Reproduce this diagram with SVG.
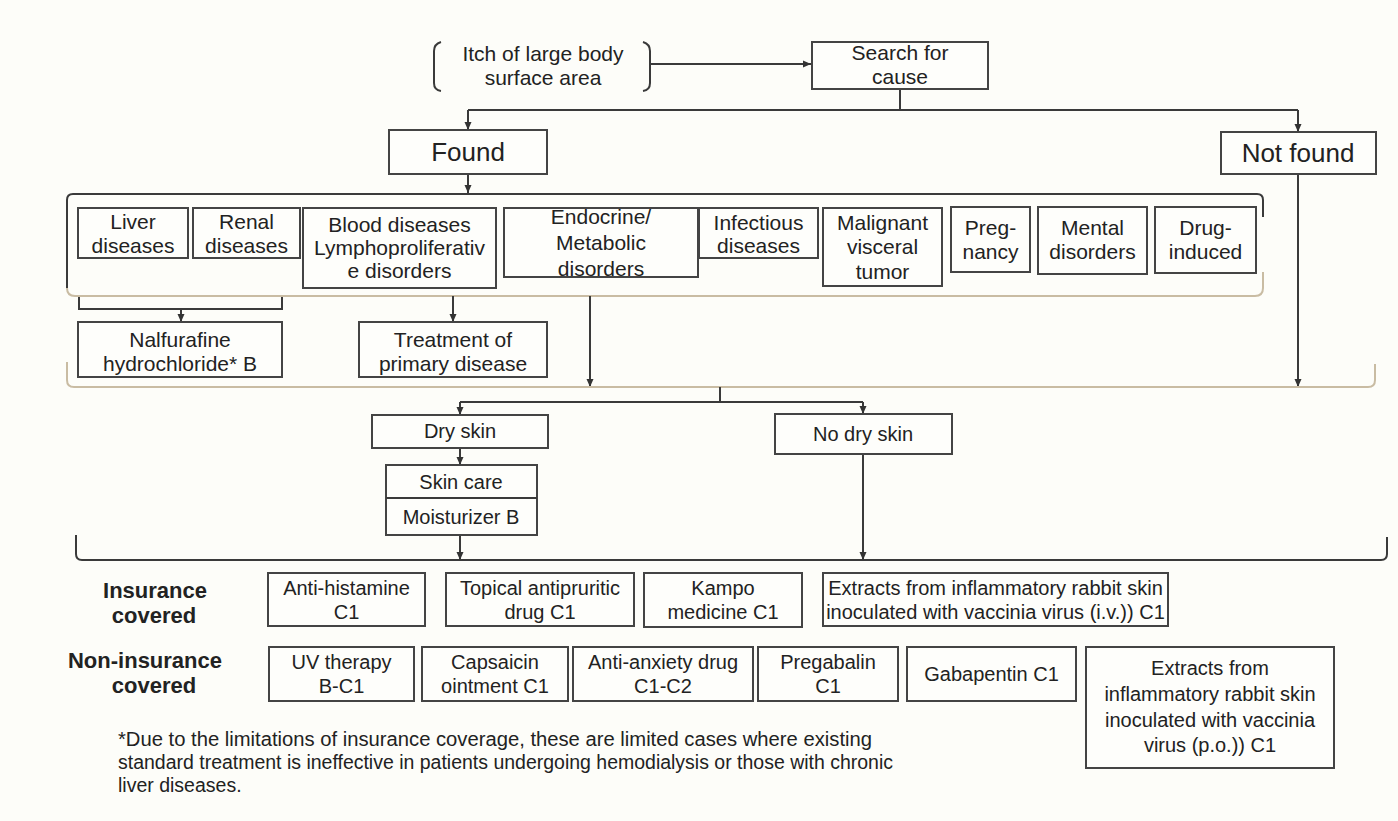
<svg xmlns="http://www.w3.org/2000/svg" width="1398" height="821" viewBox="0 0 1398 821">
<defs>
<marker id="ah" viewBox="0 0 8 8" refX="8" refY="4" markerWidth="8" markerHeight="8" markerUnits="userSpaceOnUse" orient="auto">
<path d="M0,0.5 L8,4 L0,7.5 z" fill="#333"/>
</marker>
<style>
.bx{fill:#fefefb;stroke:#444;stroke-width:2}
.t{font-family:"Liberation Sans",Arial,sans-serif;font-size:21px;fill:#222;text-anchor:middle}
.s{font-size:20px}
.big{font-size:26px}
.lb{font-family:"Liberation Sans",Arial,sans-serif;font-size:22px;font-weight:bold;fill:#222;text-anchor:middle}
.fn{font-family:"Liberation Sans",Arial,sans-serif;font-size:19.5px;fill:#222}
.ln{fill:none;stroke:#3a3a3a;stroke-width:2}
.la{fill:none;stroke:#3a3a3a;stroke-width:2;marker-end:url(#ah)}
.bg{fill:none;stroke:#c9bca3;stroke-width:2}
</style>
</defs>
<rect x="0" y="0" width="1398" height="821" fill="#fdfdf9"/>

<g id="connectors">
<path class="ln" d="M441 42 Q434 44 434 51 L434 83 Q434 90 441 91"/>
<path class="ln" d="M643 42 Q650 44 650 51 L650 83 Q650 90 643 91"/>
<line class="la" x1="651" y1="64" x2="811" y2="64"/>
<line class="ln" x1="900" y1="89" x2="900" y2="110"/>
<line class="ln" x1="468" y1="110" x2="1298" y2="110"/>
<line class="la" x1="468" y1="110" x2="468" y2="130"/>
<line class="la" x1="1298" y1="110" x2="1298" y2="132"/>
<line class="la" x1="468" y1="174" x2="468" y2="193"/>
<path class="ln" d="M67 288 L67 200 Q67 194 73 194 L1257 194 Q1263 194 1263 200 L1263 217"/>
<path class="bg" d="M67 288 Q67 296 75 296 L1255 296 Q1263 296 1263 288 L1263 272"/>
<path class="ln" d="M79 297 L79 309 L282 309 L282 297"/>
<line class="la" x1="181" y1="309" x2="181" y2="322"/>
<line class="la" x1="453" y1="296" x2="453" y2="322"/>
<line class="la" x1="590" y1="296" x2="590" y2="387"/>
<line class="la" x1="1298" y1="174" x2="1298" y2="387"/>
<path class="bg" d="M67 362 L67 380 Q67 387 74 387 L1368 387 Q1375 387 1375 380 L1375 364"/>
<line class="ln" x1="720" y1="387" x2="720" y2="402"/>
<line class="ln" x1="460" y1="402" x2="863" y2="402"/>
<line class="la" x1="460" y1="402" x2="460" y2="415"/>
<line class="la" x1="863" y1="402" x2="863" y2="414"/>
<line class="la" x1="460" y1="448" x2="460" y2="465"/>
<line class="la" x1="460" y1="535" x2="460" y2="560"/>
<line class="la" x1="863" y1="454" x2="863" y2="560"/>
<path class="ln" d="M76 535 L76 554 Q76 560 82 560 L1381 560 Q1387 560 1387 554 L1387 537"/>
</g>

<g id="itch"><text class="t" x="543" y="61">Itch of large body</text><text class="t" x="543" y="85">surface area</text></g>
<g id="search"><rect class="bx" x="812" y="42" width="176" height="47"/><text class="t" x="900" y="60">Search for</text><text class="t" x="900" y="84">cause</text></g>
<g id="found"><rect class="bx" x="389" y="130" width="158" height="44"/><text class="t big" x="468" y="161">Found</text></g>
<g id="notfound"><rect class="bx" x="1221" y="132" width="155" height="42"/><text class="t big" x="1298" y="162">Not found</text></g>

<g id="liver"><rect class="bx" x="78" y="208" width="110" height="50"/><text class="t" x="133" y="229">Liver</text><text class="t" x="133" y="253">diseases</text></g>
<g id="renal"><rect class="bx" x="193" y="208" width="107" height="50"/><text class="t" x="246.5" y="229">Renal</text><text class="t" x="246.5" y="253">diseases</text></g>
<g id="blood"><rect class="bx" x="303" y="208" width="193" height="80"/><text class="t" x="399.5" y="232">Blood diseases</text><text class="t" x="399.5" y="255">Lymphoproliferativ</text><text class="t" x="399.5" y="278">e disorders</text></g>
<g id="endocrine"><rect class="bx" x="504" y="208" width="194" height="69"/><text class="t" x="601" y="224">Endocrine/</text><text class="t" x="601" y="250">Metabolic</text><text class="t" x="601" y="276">disorders</text></g>
<g id="infectious"><rect class="bx" x="699" y="208" width="119" height="50"/><text class="t" x="758.5" y="230">Infectious</text><text class="t" x="758.5" y="253">diseases</text></g>
<g id="malignant"><rect class="bx" x="823" y="208" width="119" height="78"/><text class="t" x="882.5" y="230">Malignant</text><text class="t" x="882.5" y="254">visceral</text><text class="t" x="882.5" y="279">tumor</text></g>
<g id="pregnancy"><rect class="bx" x="951" y="207" width="79" height="65"/><text class="t" x="990.5" y="235">Preg-</text><text class="t" x="990.5" y="259">nancy</text></g>
<g id="mental"><rect class="bx" x="1038" y="207" width="109" height="67"/><text class="t" x="1092.5" y="235">Mental</text><text class="t" x="1092.5" y="259">disorders</text></g>
<g id="drug"><rect class="bx" x="1155" y="207" width="101" height="66"/><text class="t" x="1205.5" y="235">Drug-</text><text class="t" x="1205.5" y="259">induced</text></g>

<g id="nalfurafine"><rect class="bx" x="78" y="322" width="204" height="55"/><text class="t" x="180" y="347">Nalfurafine</text><text class="t" x="180" y="371">hydrochloride* B</text></g>
<g id="treatment"><rect class="bx" x="359" y="322" width="188" height="55"/><text class="t" x="453" y="347">Treatment of</text><text class="t" x="453" y="371">primary disease</text></g>

<g id="dryskin"><rect class="bx" x="372" y="415" width="176" height="33"/><text class="t s" x="460" y="438">Dry skin</text></g>
<g id="skincare"><rect class="bx" x="386" y="465" width="151" height="70"/><line class="ln" x1="386" y1="498" x2="537" y2="498"/><text class="t s" x="461" y="489">Skin care</text><text class="t s" x="461" y="524">Moisturizer B</text></g>
<g id="nodryskin"><rect class="bx" x="775" y="414" width="177" height="40"/><text class="t s" x="863" y="441">No dry skin</text></g>

<g id="lab-ins"><text class="lb" x="155" y="598">Insurance</text><text class="lb" x="154" y="623">covered</text></g>
<g id="lab-non"><text class="lb" x="145" y="668">Non-insurance</text><text class="lb" x="154" y="693">covered</text></g>

<g id="antihist"><rect class="bx" x="268" y="573" width="157" height="53"/><text class="t s" x="346.5" y="595">Anti-histamine</text><text class="t s" x="346.5" y="619">C1</text></g>
<g id="topical"><rect class="bx" x="446" y="573" width="188" height="53"/><text class="t s" x="540" y="595">Topical antipruritic</text><text class="t s" x="540" y="619">drug C1</text></g>
<g id="kampo"><rect class="bx" x="644" y="573" width="158" height="54"/><text class="t s" x="723" y="595">Kampo</text><text class="t s" x="723" y="619">medicine C1</text></g>
<g id="extracts-iv"><rect class="bx" x="823" y="573" width="345" height="53"/><text class="t s" x="995.5" y="595">Extracts from inflammatory rabbit skin</text><text class="t s" x="995.5" y="619">inoculated with vaccinia virus (i.v.)) C1</text></g>

<g id="uv"><rect class="bx" x="269" y="647" width="145" height="54"/><text class="t s" x="341.5" y="669">UV therapy</text><text class="t s" x="341.5" y="693">B-C1</text></g>
<g id="capsaicin"><rect class="bx" x="422" y="647" width="146" height="54"/><text class="t s" x="495" y="669">Capsaicin</text><text class="t s" x="495" y="693">ointment C1</text></g>
<g id="antianxiety"><rect class="bx" x="573" y="647" width="180" height="54"/><text class="t s" x="663" y="669">Anti-anxiety drug</text><text class="t s" x="663" y="693">C1-C2</text></g>
<g id="pregabalin"><rect class="bx" x="758" y="647" width="140" height="54"/><text class="t s" x="828" y="669">Pregabalin</text><text class="t s" x="828" y="693">C1</text></g>
<g id="gabapentin"><rect class="bx" x="907" y="647" width="169" height="54"/><text class="t s" x="991.5" y="681">Gabapentin C1</text></g>
<g id="extracts-po"><rect class="bx" x="1086" y="647" width="248" height="121"/><text class="t s" x="1210" y="675">Extracts from</text><text class="t s" x="1210" y="701">inflammatory rabbit skin</text><text class="t s" x="1210" y="727">inoculated with vaccinia</text><text class="t s" x="1210" y="752">virus (p.o.)) C1</text></g>

<g id="footnote">
<text class="fn" x="118" y="746" textLength="754" lengthAdjust="spacingAndGlyphs">*Due to the limitations of insurance coverage, these are limited cases where existing</text>
<text class="fn" x="118" y="769" textLength="775" lengthAdjust="spacingAndGlyphs">standard treatment is ineffective in patients undergoing hemodialysis or those with chronic</text>
<text class="fn" x="118" y="792">liver diseases.</text>
</g>
</svg>
